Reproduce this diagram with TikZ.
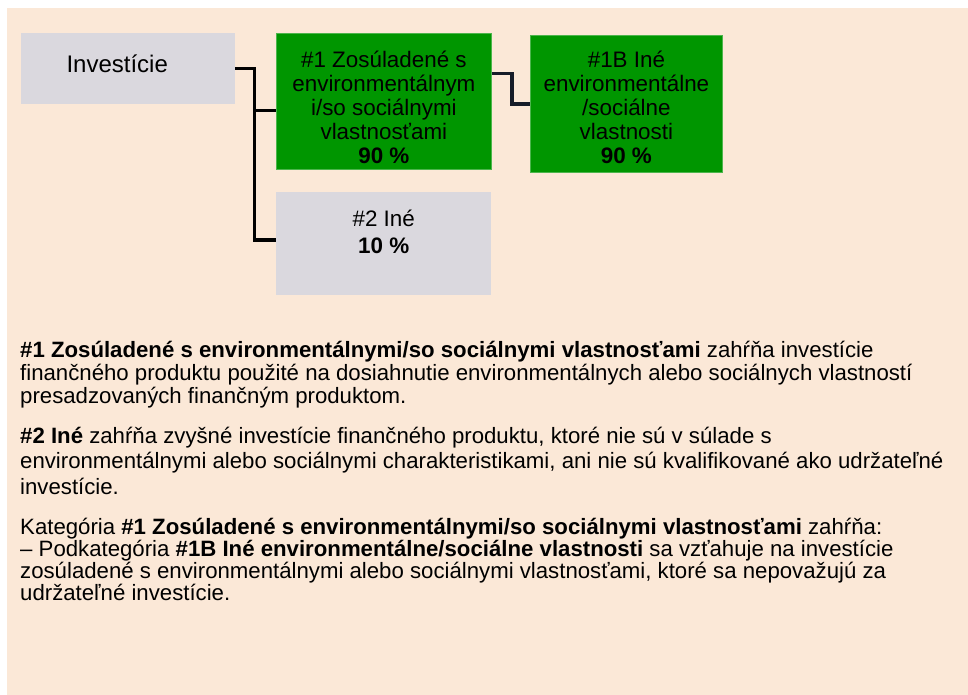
\documentclass[tikz,border=0pt]{standalone}
\usepackage{fontspec}
\setmainfont{Liberation Sans}
\usetikzlibrary{positioning}
\definecolor{page}{RGB}{251,232,215}
\definecolor{aligned}{RGB}{0,150,0}
\definecolor{other}{RGB}{218,216,222}
\definecolor{wire}{RGB}{22,28,40}

\begin{document}
\begin{tikzpicture}[x=1pt, y=-1pt,
  every node/.style={font=\fontsize{22.4}{24}\selectfont},
  restbox/.style={
    fill=other, anchor=north west, inner sep=0pt, align=center,
  },
  sharebox/.style={
    fill=aligned, draw=aligned!70!white, line width=0.8pt,
    anchor=north west, inner sep=0pt, align=center,
  },
  link/.style={line width=3.6pt, black},
  sublink/.style={line width=3.6pt, wire},
  notes/.style={
    anchor=base west, inner sep=0pt, align=left,
    font=\fontsize{22.2}{23}\selectfont,
  },
]
  % Page and background
  \useasboundingbox (0,0) rectangle (968,695);
  \fill[page] (7,8) rectangle (968,695);

  % Boxes of the allocation tree
  \node[restbox, minimum width=214pt, minimum height=71pt] (inv) at (21,33)
    {\fontsize{24}{26}\selectfont Investície\rule[-10pt]{0pt}{0pt}\hspace{22pt}};
  \node[sharebox, minimum width=215pt, minimum height=136pt] (one) at (276,33)
    {\rule{0pt}{28pt}\#1 Zosúladené s\\environmentálnym\\i/so sociálnymi\\vlastnosťami\\\textbf{90 \%}};
  \node[sharebox, minimum width=192pt, minimum height=137pt] (oneB) at (530,35)
    {\rule{0pt}{24pt}\#1B Iné\\environmentálne\\/sociálne\\vlastnosti\\\textbf{90 \%}};
  \node[restbox, minimum width=215pt, minimum height=103pt] (two) at (276,192)
    {\#2 Iné\\[3pt]\textbf{10 \%}\rule[-24pt]{0pt}{0pt}};

  % Connectors
  \draw[link] (inv.east) -- ++(19,0) |- ([yshift=-9pt]one.west);
  \draw[link] (inv.east) -- ++(19,0) |- ([yshift=4pt]two.west);
  \draw[sublink] ([yshift=28pt]one.east) -- ++(20,0) |- (oneB.west);

  % Explanatory text (anchored on the baseline of the last line)
  \node[notes] (p1) at (20,403)
    {\textbf{\#1 Zosúladené s environmentálnymi/so sociálnymi vlastnosťami} zahŕňa investície\\
     finančného produktu použité na dosiahnutie environmentálnych alebo sociálnych vlastností\\
     presadzovaných finančným produktom.};
  \node[notes, font=\fontsize{22.2}{25.5}\selectfont] (p2) at (20,494)
    {\textbf{\#2 Iné} zahŕňa zvyšné investície finančného produktu, ktoré nie sú v súlade s\\
     environmentálnymi alebo sociálnymi charakteristikami, ani nie sú kvalifikované ako udržateľné\\
     investície.};
  \node[notes, font=\fontsize{22.2}{21.7}\selectfont] (p3) at (20,600)
    {Kategória \textbf{\#1 Zosúladené s environmentálnymi/so sociálnymi vlastnosťami} zahŕňa:\\
     – Podkategória \textbf{\#1B Iné environmentálne/sociálne vlastnosti} sa vzťahuje na investície\\
     zosúladené s environmentálnymi alebo sociálnymi vlastnosťami, ktoré sa nepovažujú za\\
     udržateľné investície.};
\end{tikzpicture}
\end{document}
